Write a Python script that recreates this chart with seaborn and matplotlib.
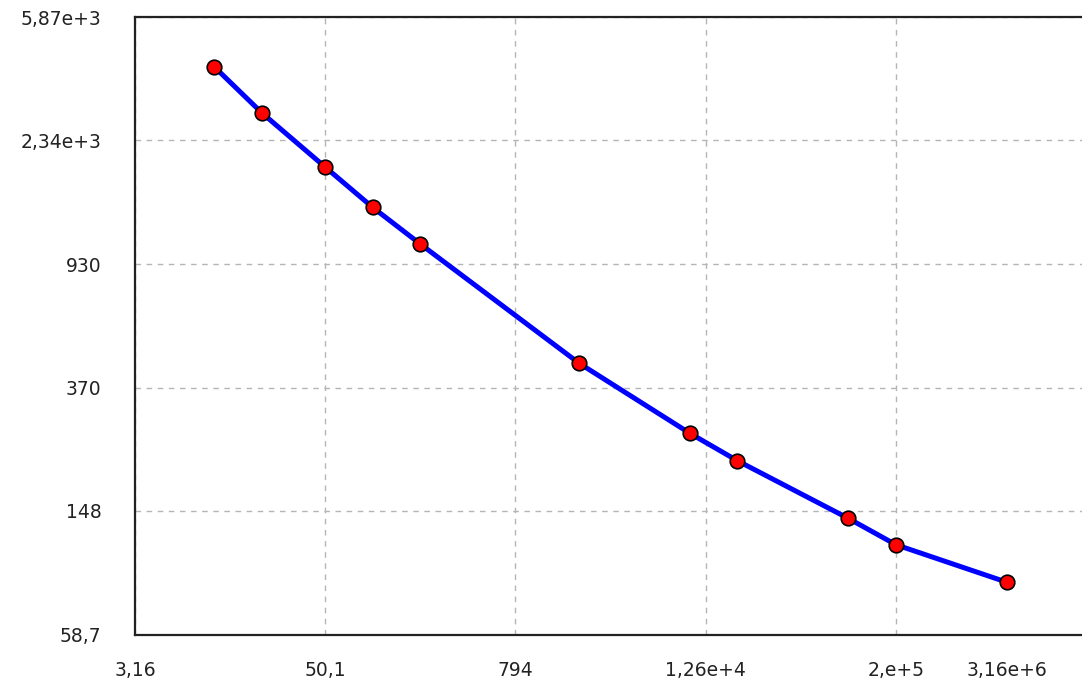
import matplotlib
matplotlib.use("Agg")
import matplotlib.pyplot as plt
import matplotlib.transforms as mtransforms
import seaborn as sns

# valeurs (axes log-log)
x_vals = [10, 20, 50, 100, 200, 2000, 1e4, 2e4, 1e5, 2e5, 1e6]
y_vals = [4050, 2870, 1920, 1420, 1080, 445, 264, 215, 140, 115, 87]

x_ticks = [3.16, 50.1, 794, 1.26e4, 2e5, 3.16e6]
x_labels = ["3,16", "50,1", "794", "1,26e+4", "2,e+5", "3,16e+6"]
y_ticks = [58.7, 148, 370, 930, 2340, 5870]
y_labels = ["58,7", "148", "370", "930", "2,34e+3", "5,87e+3"]

sns.set_style("white")
plt.rcParams["font.family"] = ["DejaVu Sans"]

fig = plt.figure(figsize=(10.82, 6.88), dpi=100)
# l'axe dépasse à droite, comme sur la capture
ax = fig.add_axes([135 / 1082, 53 / 688, 951 / 1082, 618 / 688])

sns.lineplot(
    x=x_vals, y=y_vals, ax=ax,
    color="#0000FF", lw=3.6,
    marker="o", markersize=10.5,
    markerfacecolor="#FF0000", markeredgecolor="black", markeredgewidth=1.2,
)

ax.set_xscale("log")
ax.set_yscale("log")
ax.set_xlim(10 ** 0.5, 10 ** 6.5)
ax.set_ylim(10 ** 1.7686, 10 ** 3.7686)

ax.set_xticks(x_ticks)
ax.set_xticklabels(x_labels)
ax.set_yticks(y_ticks)
ax.set_yticklabels(y_labels)
ax.minorticks_off()

ax.grid(True, color="#b5b5b5", linestyle=(0, (4, 4)), linewidth=1.0)
ax.tick_params(axis="both", which="major", length=11, width=1.0,
               color="#bdbdbd", labelsize=13.5, labelcolor="#222222",
               direction="out")
ax.tick_params(axis="y", pad=13)
ax.tick_params(axis="x", pad=8)

for side in ["left", "bottom", "top", "right"]:
    ax.spines[side].set_color("#222222")
    ax.spines[side].set_linewidth(1.6)

# le dernier label x est décalé pour rester dans l'image
last = ax.get_xticklabels()[-1]
last.set_transform(last.get_transform()
                   + mtransforms.ScaledTranslation(-0.79, 0, fig.dpi_scale_trans))

fig.savefig("out.png", dpi=100)
plt.close(fig)
